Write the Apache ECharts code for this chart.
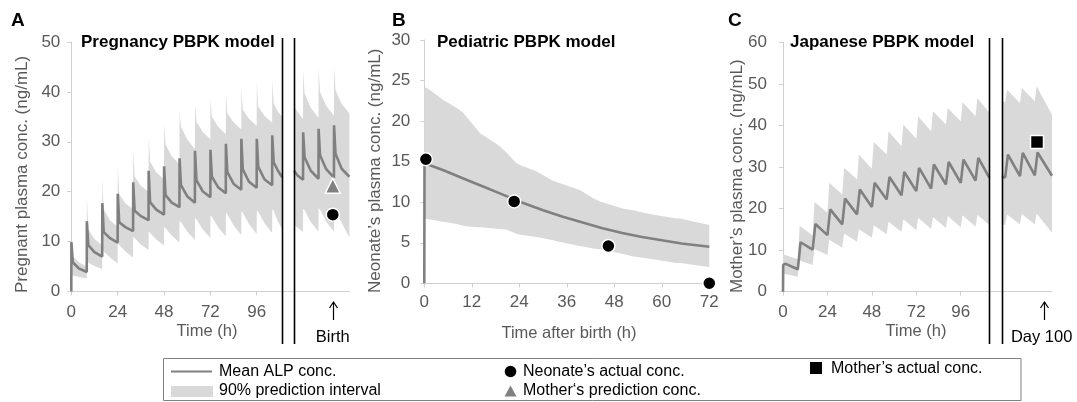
<!DOCTYPE html>
<html><head><meta charset="utf-8">
<script src="https://cdn.jsdelivr.net/npm/echarts@6/dist/echarts.min.js"></script>
<style>html,body{margin:0;padding:0;background:#fff}#c{width:1077px;height:402px}</style>
</head><body><div id="c"></div>
<script>
// ---------- Panel A: Pregnancy PBPK model ----------
const xTicksA = [0, 24, 48, 72, 96];
const meanA = [
[0,0],[0.05,9.9],[0.8,5.8],[4,4.6],[8,3.9],
[8.05,14.1],[8.8,9.3],[12,7.9],[16,7.0],
[16.05,17.7],[16.8,11.9],[20,10.7],[24,9.8],
[24.05,19.6],[24.8,13.9],[28,12.9],[32,12.1],
[32.05,21.9],[32.8,16.2],[36,15.1],[40,14.3],
[40.05,24.2],[40.8,17.9],[44,16.4],[48,15.4],
[48.05,25.1],[48.8,19.3],[52,17.8],[56,16.9],
[56.05,26.7],[56.8,21.3],[60,19.1],[64,17.8],
[64.05,28.2],[64.8,22.3],[68,20.1],[72,18.9],
[72.05,28.4],[72.8,23.0],[76,20.9],[80,19.7],
[80.05,29.6],[80.8,23.9],[84,21.6],[88,20.4],
[88.05,30.6],[88.8,24.5],[92,22.0],[96,20.8],
[96.05,30.6],[96.8,25.0],[100,22.5],[104,21.3],
[104.05,31.3],[104.8,25.9],[107,24.2],[109.2,22.9],
null,
[115.4,24.2],[117,23.3],[120,22.4],
[120.05,31.9],[120.8,26.9],[124,24.2],[128,22.6],
[128.05,32.6],[128.8,27.3],[132,24.5],[136,22.8],
[136.05,33.3],[136.8,27.6],[140,24.6],[144,23.0]
];
// [time, lower 5%, upper 95%]
const bandA = [
[0,3.3,12.0],[0.8,3.2,7.0],[4,2.9,5.8],[8,2.6,5.0],
[8.05,6.0,19.0],[8.8,5.8,12.5],[12,5.1,10.5],[16,4.5,9.2],
[16.05,8.3,22.5],[16.8,8.0,16.5],[20,6.8,14.3],[24,5.6,13.0],
[24.05,9.6,25.5],[24.8,9.3,19.5],[28,8.0,17.7],[32,6.8,16.5],
[32.05,11.0,28.5],[32.8,10.7,23.0],[36,9.4,21.2],[40,8.3,20.0],
[40.05,12.0,31.0],[40.8,11.7,26.0],[44,10.4,23.9],[48,9.2,22.5],
[48.05,13.0,33.5],[48.8,12.7,29.5],[52,11.2,27.1],[56,9.8,25.5],
[56.05,14.2,36.0],[56.8,13.9,33.0],[60,12.0,30.5],[64,10.3,28.5],
[64.05,14.8,37.4],[64.8,14.5,34.0],[68,12.5,32.0],[72,10.7,30.5],
[72.05,15.3,38.8],[72.8,15.0,35.0],[76,12.9,33.0],[80,11.0,31.5],
[80.05,15.8,39.8],[80.8,15.5,35.7],[84,13.3,33.9],[88,11.3,32.5],
[88.05,16.1,40.8],[88.8,15.8,36.4],[92,13.5,34.6],[96,11.5,33.2],
[96.05,16.3,41.7],[96.8,16.0,37.0],[100,13.7,35.2],[104,11.7,33.8],
[104.05,16.5,42.4],[104.8,16.2,37.7],[107,14.0,36.0],[109.2,12.6,35.0],
null,
[115.4,13.4,37.0],[120,11.9,34.5],
[120.05,16.6,44.4],[120.8,16.3,39.7],[124,13.9,36.8],[128,12.0,34.8],
[128.05,16.7,44.8],[128.8,16.4,40.0],[132,14.0,37.2],[136,12.0,35.2],
[136.05,16.8,45.2],[136.8,16.5,40.4],[140,13.8,37.6],[144,10.8,35.7]
];
const motherPredA = [[135.4, 21.2]];
const neonateA = [[135.4, 15.4]];
const breaksA = [109.2, 115.4];
const birthT = 135.4;

// ---------- Panel B: Pediatric PBPK model ----------
const meanB = [[0,0],[0.05,14.8],[5,13.9],[10,12.9],[15,11.9],[20,10.9],[25,9.9],[30,9.0],[35,8.2],[40,7.5],[45,6.8],[50,6.2],[55,5.7],[60,5.3],[65,4.9],[72,4.5]];
const bandB = [[0,8.0,24.2],[1,7.9,24.0],[4.8,7.6,22.6],[8.2,7.3,21.6],[9.9,7.1,21.0],[10.7,7.0,20.5],[14.1,6.9,18.5],[19.1,6.7,16.9],[20.8,6.6,16.1],[23.3,6.1,14.8],[24.2,6.0,14.6],[28.4,5.7,13.8],[32.6,5.3,12.6],[33.4,5.2,12.5],[39.3,4.6,11.5],[42.7,4.3,10.5],[44.4,4.2,10.1],[50.3,3.6,9.2],[52.8,3.3,9.0],[56.2,3.1,8.6],[63.7,2.5,8.0],[64.6,2.5,8.0],[72,2.0,7.2]];
const neonateB = [[0.4,15.3],[22.7,10.1],[46.5,4.6],[72,0]];

// ---------- Panel C: Japanese PBPK model ----------
const xTicksC = [0, 24, 48, 72, 96];
const meanC = [
[0,0],[0.1,6.5],[1.5,6.7],[8,5.4],
[9.5,11.9],[16,10.1],[17.5,16.3],[24,13.6],[25.5,19.8],[32,16.2],
[33.5,22.4],[40,18.6],[41.5,24.6],[48,20.4],[49.5,26.2],[56,22.2],
[57.5,27.6],[64,23.2],[65.5,28.8],[72,24.2],[73.5,29.8],[80,24.8],
[81.5,30.6],[88,25.8],[89.5,31.2],[96,26.2],[97.5,31.8],[104,26.7],
[105.5,32.2],[111.5,27.4],
null,
[118.2,27.6],[120,27.5],[121.5,33.0],[128,27.8],[129.5,33.4],[136,28.0],[137.5,33.5],[145.3,27.9]
];
const bandC = [
[0,4.4,9.0],[8,3.6,7.8],
[9,7.5,15.8],[16,6.4,13.6],[17,10.3,21.6],[24,8.8,19.0],
[25,12.5,26.2],[32,10.6,23.4],[33,14.0,29.8],[40,12.0,27.0],
[41,15.0,33.0],[48,13.0,29.6],[49,16.0,36.0],[56,13.8,33.0],
[57,16.8,38.6],[64,14.4,35.0],[65,17.4,40.2],[72,14.8,36.8],
[73,17.8,42.2],[80,15.1,38.6],[81,18.0,43.4],[88,15.3,40.2],
[89,18.2,44.2],[96,15.5,41.0],[97,18.4,45.6],[104,15.6,42.2],
[105,18.5,46.6],[111.5,16.0,43.0],
null,
[118.2,16.3,46.0],[120,16.0,45.6],[121,18.6,48.6],[128,16.2,45.4],
[129,18.7,49.0],[136,16.2,45.8],[137,18.8,49.4],[145.3,14.2,42.6]
];
const motherActC = [[137.2, 36.0]];
const breaksC = [111.5, 118.2];
const day100T = 140.8;

// ---------- rendering ----------
const FONT = '"Liberation Sans", Arial, Helvetica, sans-serif';
const LINE = '#808080', BAND = '#d9d9d9', AX = '#d0d0d0', TXT = '#595959';

function split(arr) {
  const segs = []; let cur = [];
  arr.forEach(p => { if (p === null) { if (cur.length) segs.push(cur); cur = []; } else cur.push(p); });
  if (cur.length) segs.push(cur);
  return segs;
}
function bandSeries(band, gi) {
  const segs = split(band);
  return {
    type: 'custom', xAxisIndex: gi, yAxisIndex: gi, silent: true, z: 1, clip: true,
    data: segs.map(s => [s[0][0], s[0][1]]),
    encode: { x: 0, y: 1 },
    renderItem: function (params, api) {
      const s = segs[params.dataIndex];
      const up = s.map(p => api.coord([p[0], p[2]]));
      const lo = s.map(p => api.coord([p[0], p[1]])).reverse();
      return { type: 'polygon', shape: { points: up.concat(lo) }, style: { fill: BAND } };
    }
  };
}
function lineSeries(mean, gi) {
  return split(mean).map(s => ({
    type: 'line', xAxisIndex: gi, yAxisIndex: gi, data: s, showSymbol: false, symbol: 'none',
    silent: true, z: 3, lineStyle: { color: LINE, width: 2.6 }
  }));
}
function scatter(data, gi, symbol, size, color) {
  return { type: 'scatter', xAxisIndex: gi, yAxisIndex: gi, data: data, symbol: symbol, symbolSize: size,
    clip: false, z: 5, silent: true,
    itemStyle: { color: color, borderColor: '#fff', borderWidth: 1.5, opacity: 1 } };
}
function xAxis(gi, max, interval, custom, margin) {
  const a = { type: 'value', gridIndex: gi, min: 0, max: max, interval: interval,
    axisLine: { show: true, onZero: false, lineStyle: { color: AX, width: 1 } },
    axisTick: { show: true, length: 4, inside: false, lineStyle: { color: AX } },
    axisLabel: { show: true, fontSize: 17, color: TXT, fontFamily: FONT, margin: margin, showMinLabel: true, showMaxLabel: true },
    splitLine: { show: false } };
  if (custom) { a.axisTick.customValues = custom; a.axisLabel.customValues = custom; }
  return a;
}
function yAxis(gi, max, interval, margin) {
  return { type: 'value', gridIndex: gi, min: 0, max: max, interval: interval,
    axisLine: { show: true, lineStyle: { color: AX, width: 1 } },
    axisTick: { show: true, length: 4, lineStyle: { color: AX } },
    axisLabel: { show: true, fontSize: 17, color: TXT, fontFamily: FONT, margin: margin },
    splitLine: { show: false } };
}

const chart = echarts.init(document.getElementById('c'), null, { renderer: 'canvas' });
const option = {
  animation: false,
  backgroundColor: '#fff',
  textStyle: { fontFamily: FONT },
  grid: [
    { left: 71.3, top: 42, width: 278.1, height: 249.5, outerBoundsMode: 'none', containLabel: false },
    { left: 424.3, top: 40, width: 285, height: 243.3, outerBoundsMode: 'none', containLabel: false },
    { left: 783, top: 42.3, width: 269, height: 249.4, outerBoundsMode: 'none', containLabel: false }
  ],
  xAxis: [ xAxis(0, 144, 24, xTicksA, 12), xAxis(1, 72, 12, null, 11), xAxis(2, 145.3, 24, xTicksC, 12) ],
  yAxis: [ yAxis(0, 50, 10, 11), yAxis(1, 30, 5, 14), yAxis(2, 60, 10, 16) ],
  series: [
    bandSeries(bandA, 0), bandSeries(bandB, 1), bandSeries(bandC, 2),
    ...lineSeries(meanA, 0), ...lineSeries(meanB, 1), ...lineSeries(meanC, 2),
    scatter(motherPredA, 0, 'triangle', 15, LINE),
    scatter(neonateA, 0, 'circle', 13, '#000'),
    scatter(neonateB, 1, 'circle', 13, '#000'),
    scatter(motherActC, 2, 'rect', 13, '#000')
  ]
};
chart.setOption(option);

function px(gi, x, y) { return chart.convertToPixel({ gridIndex: gi }, [x, y]); }
function txt(x, y, s, size, opts) {
  opts = opts || {};
  return { type: 'text', x: x, y: y, rotation: opts.rot || 0, silent: true, z: 20,
    style: { text: s, fill: opts.color || '#000', fontSize: size, fontFamily: FONT,
      fontWeight: opts.bold ? 'bold' : 'normal', align: opts.align || 'left', verticalAlign: opts.va || 'middle' } };
}
function vline(x, y1, y2, w, color) {
  return { type: 'line', silent: true, z: 20, shape: { x1: x, y1: y1, x2: x, y2: y2 }, style: { stroke: color || '#000', lineWidth: w || 1.5 } };
}
function arrow(x) {
  return [
    vline(x, 320, 302.5, 1.2, '#000'),
    { type: 'polyline', silent: true, z: 20, shape: { points: [[x - 4, 308], [x, 302], [x + 4, 308]] }, style: { stroke: '#000', lineWidth: 1.2, fill: null } }
  ];
}

const G = [];
// break markers
breaksA.forEach(t => { const p = px(0, t, 0); G.push(vline(Math.round(p[0]) + 0.5, 38, 344, 1.6)); });
breaksC.forEach(t => { const p = px(2, t, 0); G.push(vline(Math.round(p[0]) + 0.5, 38, 344, 1.6)); });
// arrows
const bx = px(0, birthT, 0)[0], dx = px(2, day100T, 0)[0];
G.push(...arrow(Math.round(bx) + 0.5), ...arrow(Math.round(dx) + 0.5));
G.push(txt(bx, 337, 'Birth', 16.5, { align: 'center' }));
G.push(txt(dx - 2, 337, 'Day 100', 16.5, { align: 'center' }));
// panel letters and titles
G.push(txt(11, 21, 'A', 19, { bold: true }));
G.push(txt(392, 21, 'B', 19, { bold: true }));
G.push(txt(728, 21, 'C', 19, { bold: true }));
G.push(txt(81, 42, 'Pregnancy PBPK model', 17, { bold: true }));
G.push(txt(437, 42, 'Pediatric PBPK model', 17, { bold: true }));
G.push(txt(790, 42, 'Japanese PBPK model', 17, { bold: true }));
// axis names
G.push(txt(22, 293, 'Pregnant plasma conc. (ng/mL)', 17, { rot: Math.PI / 2, color: TXT }));
G.push(txt(375, 293, 'Neonate’s plasma conc. (ng/mL)', 17, { rot: Math.PI / 2, color: TXT }));
G.push(txt(737, 293, 'Mother’s plasma conc. (ng/mL)', 17, { rot: Math.PI / 2, color: TXT }));
G.push(txt(207, 331, 'Time (h)', 16.5, { align: 'center', color: TXT }));
G.push(txt(569, 333, 'Time after birth (h)', 16.5, { align: 'center', color: TXT }));
G.push(txt(916, 331, 'Time (h)', 16.5, { align: 'center', color: TXT }));
// legend
G.push({ type: 'rect', silent: true, z: 20, shape: { x: 163.5, y: 358.5, width: 857.5, height: 42 }, style: { stroke: '#808080', lineWidth: 1, fill: null } });
G.push({ type: 'line', silent: true, z: 21, shape: { x1: 171, y1: 371.5, x2: 212, y2: 371.5 }, style: { stroke: LINE, lineWidth: 2 } });
G.push({ type: 'rect', silent: true, z: 21, shape: { x: 171, y: 386, width: 42, height: 11 }, style: { fill: BAND } });
G.push(txt(219, 371.5, 'Mean ALP conc.', 16));
G.push(txt(219, 391, '90% prediction interval', 16));
G.push({ type: 'circle', silent: true, z: 21, shape: { cx: 510.5, cy: 371.5, r: 5.8 }, style: { fill: '#000' } });
G.push({ type: 'polygon', silent: true, z: 21, shape: { points: [[510.5, 385.5], [516.5, 396.5], [504.5, 396.5]] }, style: { fill: LINE } });
G.push(txt(523, 371.5, 'Neonate’s actual conc.', 16));
G.push(txt(523, 391, 'Mother‘s prediction conc.', 16));
G.push({ type: 'rect', silent: true, z: 21, shape: { x: 810, y: 362, width: 12, height: 12 }, style: { fill: '#000' } });
G.push(txt(831, 368.5, 'Mother’s actual conc.', 16));

chart.setOption({ graphic: { elements: G } });
</script></body></html>
